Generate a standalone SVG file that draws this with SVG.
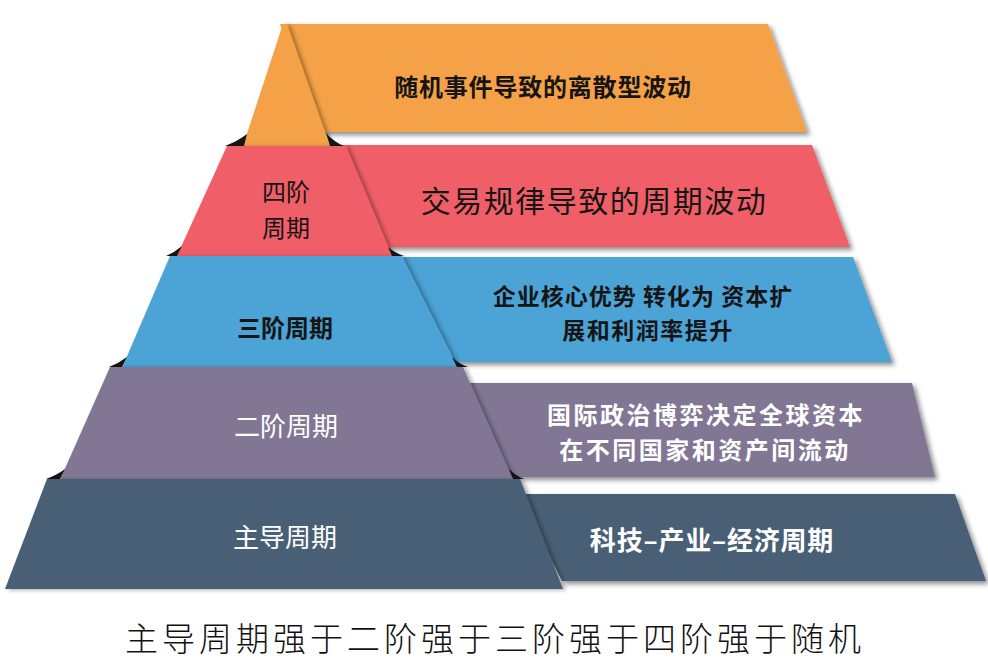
<svg xmlns="http://www.w3.org/2000/svg" width="988" height="660" viewBox="0 0 988 660">
<defs>
<filter id="sh" x="-10%" y="-10%" width="125%" height="130%">
<feDropShadow dx="3" dy="3" stdDeviation="2.5" flood-color="#000" flood-opacity="0.45"/>
</filter>
<filter id="sh2" x="-10%" y="-10%" width="125%" height="130%">
<feDropShadow dx="3" dy="1" stdDeviation="2" flood-color="#000" flood-opacity="0.35"/>
</filter>
</defs>
<style>
text{font-family:"Noto Sans CJK SC","Noto Sans",sans-serif;text-anchor:middle}
.dk{fill:#151515}
.wt{fill:#ffffff}
.b{font-weight:700}
.ear{fill:#151515}
.o{fill:#F5A147}.r{fill:#F05F67}.bl{fill:#4BA3D6}.p{fill:#817795}.s{fill:#485E74}
</style>
<rect width="988" height="660" fill="#ffffff"/>

<g id="layer-random">
<polygon class="o" filter="url(#sh)" points="280,24 768,24 807,132 318,132"/>
<polygon class="o" filter="url(#sh2)" points="283,24 287,24 332,152 241,152"/>
<text class="dk b" x="543" y="96" font-size="24" letter-spacing="0.8">随机事件导致的离散型波动</text>
</g>

<g id="layer-fourth">
<polygon class="r" filter="url(#sh)" points="340,145 812,145 850,247 385,247"/>
<path class="ear" d="M225,146 Q238,141 247,134 L244,146 Z"/>
<path class="ear" d="M326,133 Q334,142 344,146 L330,146 Z"/>
<polygon class="r" filter="url(#sh2)" points="227,146 346,146 393,258 176,258"/>
<text class="dk" x="286" y="201" font-size="24">四阶</text>
<text class="dk" x="286" y="237" font-size="24">周期</text>
<text class="dk" x="594" y="212" font-size="30" letter-spacing="1.5">交易规律导致的周期波动</text>
</g>

<g id="layer-third">
<polygon class="bl" filter="url(#sh)" points="400,257 853,257 892,362 455,362"/>
<path class="ear" d="M166,256 Q175,252 182,246 L177,256 Z"/>
<path class="ear" d="M388,247 Q395,253 404,256 L392,256 Z"/>
<polygon class="bl" filter="url(#sh2)" points="170,256 402,256 458,368 122,368"/>
<text class="dk b" x="285" y="337" font-size="24">三阶周期</text>
<text class="dk b" x="643" y="305" font-size="23" letter-spacing="1">企业核心优势 转化为 资本扩</text>
<text class="dk b" x="648" y="339" font-size="23" letter-spacing="1.5">展和利润率提升</text>
</g>

<g id="layer-second">
<polygon class="p" filter="url(#sh)" points="466,383 912,383 935,477 510,477"/>
<path class="ear" d="M109,367 Q119,363 127,357 L122,367 Z"/>
<path class="ear" d="M452,357 Q459,364 468,367 L457,367 Z"/>
<polygon class="p" filter="url(#sh2)" points="110,367 463,367 514,482 59,482"/>
<text class="wt" x="286" y="436" font-size="26">二阶周期</text>
<text class="wt b" x="706" y="424" font-size="24" letter-spacing="2.5">国际政治博弈决定全球资本</text>
<text class="wt b" x="705" y="459" font-size="24" letter-spacing="2.5">在不同国家和资产间流动</text>
</g>

<g id="layer-main">
<polygon class="s" filter="url(#sh)" points="518,494 955,494 986,581 562,581"/>
<path class="ear" d="M46,479 Q57,475 65,469 L60,479 Z"/>
<path class="ear" d="M509,469 Q516,476 524,479 L513,479 Z"/>
<polygon class="s" filter="url(#sh2)" points="47,479 520,479 563,589 5,589"/>
<text class="wt" x="285" y="547" font-size="26">主导周期</text>
<text class="wt b" x="712" y="550" font-size="26" letter-spacing="0.8">科技–产业–经济周期</text>
</g>

<g id="caption">
<text x="495" y="651" font-size="33" letter-spacing="4" fill="#111" font-weight="300">主导周期强于二阶强于三阶强于四阶强于随机</text>
</g>
</svg>
